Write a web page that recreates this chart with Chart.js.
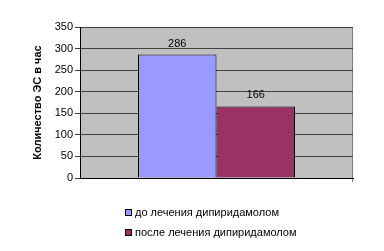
<!DOCTYPE html>
<html>
<head>
<meta charset="utf-8">
<script src="https://cdn.jsdelivr.net/npm/chart.js@4/dist/chart.umd.min.js"></script>
<style>
  body { margin: 0; background: #fff; }
  #wrap { position: relative; width: 384px; height: 251px; }
  #legend { position: absolute; left: 125px; top: 202px; font: 11px "Liberation Sans", Arial, sans-serif; color: #000; }
  .item { height: 20px; display: flex; align-items: center; white-space: nowrap; }
  .box { width: 5px; height: 5px; border: 1px solid #000; margin-right: 3px; }
</style>
</head>
<body>
<div id="wrap">
  <canvas id="chart" width="384" height="251"></canvas>
  <div id="legend"></div>
</div>
<script>
const categories = [''];
const seriesNames = ['до лечения дипиридамолом', 'после лечения дипиридамолом'];
const beforeValues = [286];
const afterValues = [166];
const seriesColors = ['#9999FF', '#993366'];
const yTitle = 'Количество ЭС в час';

Chart.defaults.font.family = '"Liberation Sans", Arial, sans-serif';
Chart.defaults.color = '#000';

// grey plot background like the old Excel charts
const plotBg = {
  id: 'plotBg',
  beforeDraw(chart) {
    const { ctx, chartArea: a } = chart;
    ctx.save();
    ctx.fillStyle = '#C0C0C0';
    ctx.fillRect(a.left, a.top, a.right - a.left, a.bottom - a.top);
    ctx.strokeStyle = '#808080';
    ctx.lineWidth = 1;
    ctx.beginPath();
    ctx.moveTo(a.right - 0.5, a.top);
    ctx.lineTo(a.right - 0.5, a.bottom + 4);
    ctx.stroke();
    ctx.restore();
  }
};

// value above each bar
const valueLabels = {
  id: 'valueLabels',
  afterDatasetsDraw(chart) {
    const { ctx } = chart;
    ctx.save();
    ctx.font = '11px "Liberation Sans", Arial, sans-serif';
    ctx.fillStyle = '#000';
    ctx.textAlign = 'center';
    ctx.textBaseline = 'alphabetic';
    chart.data.datasets.forEach((ds, i) => {
      chart.getDatasetMeta(i).data.forEach((bar, j) => {
        ctx.fillText(ds.data[j], bar.x, bar.y - 8);
      });
    });
    ctx.restore();
  }
};

const chart = new Chart(document.getElementById('chart'), {
  type: 'bar',
  data: {
    labels: categories,
    datasets: [
      { label: seriesNames[0], data: beforeValues, backgroundColor: seriesColors[0], borderColor: '#000', borderWidth: 1 },
      { label: seriesNames[1], data: afterValues, backgroundColor: seriesColors[1], borderColor: '#000', borderWidth: 1 }
    ]
  },
  options: {
    responsive: false,
    animation: false,
    layout: { padding: { top: 27, right: 31, bottom: 73, left: 0 } },
    datasets: { bar: { categoryPercentage: 0.575, barPercentage: 1 } },
    plugins: {
      legend: { display: false },
      tooltip: { enabled: false }
    },
    scales: {
      x: {
        grid: { display: false },
        ticks: { display: false },
        border: { display: true, color: '#000' },
        afterFit(s) { s.height = 0; }
      },
      y: {
        min: 0,
        max: 350,
        ticks: { stepSize: 50, color: '#000', font: { size: 11 }, padding: 2 },
        grid: { color: '#404040', tickLength: 5 },
        border: { color: '#000' },
        title: { display: true, text: yTitle, font: { size: 11, weight: 'bold' }, padding: { top: 31 } },
        afterFit(s) { s.width = 80; }
      }
    }
  },
  plugins: [plotBg, valueLabels]
});

// two-row legend under the plot
const legend = document.getElementById('legend');
chart.data.datasets.forEach(ds => {
  const row = document.createElement('div');
  row.className = 'item';
  const box = document.createElement('span');
  box.className = 'box';
  box.style.background = ds.backgroundColor;
  row.appendChild(box);
  row.appendChild(document.createTextNode(ds.label));
  legend.appendChild(row);
});
</script>
</body>
</html>
